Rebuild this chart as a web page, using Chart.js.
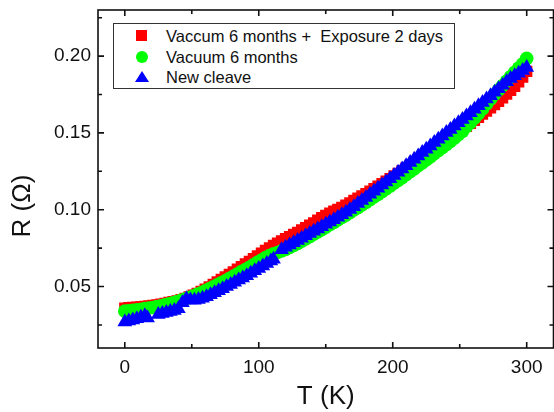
<!DOCTYPE html>
<html lang="en">
<head>
  <meta charset="UTF-8">
  <title>R vs T</title>
  <script src="https://cdn.jsdelivr.net/npm/chart.js"></script>
  <style>
    html, body { margin: 0; padding: 0; background: #fff; overflow: hidden; }
    #wrap { position: relative; width: 562px; height: 412px; }
    #legend {
      position: absolute; left: 113px; top: 23px; width: 340px; height: 64px;
      border: 1px solid #333; background: #fff;
      font: 16.5px "Liberation Sans", Arial, sans-serif; color: #111;
    }
    #legend .txt { position: absolute; left: 52px; height: 20px; line-height: 20px; white-space: pre; }
    #legend .mk { position: absolute; }
  </style>
</head>
<body>
  <div id="wrap">
    <canvas id="rtChart" width="562" height="412"></canvas>
    <!-- legend box inside the plot, like the original -->
    <div id="legend">
      <div class="mk" style="left:22px;top:6px;width:11px;height:11px;background:#ff0000"></div>
      <div class="txt" style="top:2px">Vaccum 6 months +  Exposure 2 days</div>
      <div class="mk" style="left:22px;top:27px;width:12px;height:12px;border-radius:50%;background:#00ff00"></div>
      <div class="txt" style="top:23px">Vacuum 6 months</div>
      <div class="mk" style="left:21px;top:47px;width:0;height:0;border-left:7px solid transparent;border-right:7px solid transparent;border-bottom:11px solid #0000ff"></div>
      <div class="txt" style="top:43px">New cleave</div>
    </div>
  </div>

  <script>
    // temperatures for the red and green runs (every 3 K)
    const sweepT = [0, 3, 6, 9, 12, 15, 18, 21, 24, 27, 30, 33, 36, 39, 42, 45, 48, 51, 54, 57,
      60, 63, 66, 69, 72, 75, 78, 81, 84, 87, 90, 93, 96, 99, 102, 105, 108, 111, 114, 117,
      120, 123, 126, 129, 132, 135, 138, 141, 144, 147, 150, 153, 156, 159, 162, 165, 168, 171, 174, 177,
      180, 183, 186, 189, 192, 195, 198, 201, 204, 207, 210, 213, 216, 219, 222, 225, 228, 231, 234, 237,
      240, 243, 246, 249, 252, 255, 258, 261, 264, 267, 270, 273, 276, 279, 282, 285, 288, 291, 294, 297, 300];

    // Vaccum 6 months + Exposure 2 days (red squares)
    const redR = [0.0360, 0.0362, 0.0364, 0.0366, 0.0368, 0.0371, 0.0374, 0.0377, 0.0381, 0.0386,
      0.0391, 0.0396, 0.0401, 0.0407, 0.0414, 0.0423, 0.0433, 0.0444, 0.0456, 0.0469,
      0.0483, 0.0498, 0.0514, 0.0530, 0.0546, 0.0562, 0.0579, 0.0596, 0.0613, 0.0630,
      0.0647, 0.0664, 0.0682, 0.0700, 0.0717, 0.0735, 0.0751, 0.0767, 0.0782, 0.0797,
      0.0811, 0.0825, 0.0839, 0.0853, 0.0868, 0.0883, 0.0899, 0.0915, 0.0932, 0.0948,
      0.0963, 0.0977, 0.0990, 0.1002, 0.1015, 0.1030, 0.1045, 0.1060, 0.1075, 0.1090,
      0.1105, 0.1121, 0.1137, 0.1153, 0.1169, 0.1186, 0.1203, 0.1220, 0.1237, 0.1255,
      0.1272, 0.1290, 0.1308, 0.1326, 0.1344, 0.1362, 0.1380, 0.1398, 0.1416, 0.1434,
      0.1452, 0.1470, 0.1488, 0.1506, 0.1524, 0.1543, 0.1562, 0.1582, 0.1602, 0.1622,
      0.1642, 0.1663, 0.1684, 0.1706, 0.1728, 0.1752, 0.1777, 0.1803, 0.1832, 0.1864, 0.1900];

    // Vacuum 6 months (green circles)
    const greenR = [0.0340, 0.0342, 0.0345, 0.0348, 0.0352, 0.0356, 0.0360, 0.0364, 0.0369, 0.0375,
      0.0381, 0.0388, 0.0395, 0.0402, 0.0410, 0.0419, 0.0428, 0.0438, 0.0449, 0.0460,
      0.0472, 0.0485, 0.0498, 0.0511, 0.0524, 0.0538, 0.0552, 0.0567, 0.0582, 0.0597,
      0.0611, 0.0626, 0.0641, 0.0657, 0.0672, 0.0688, 0.0702, 0.0713, 0.0722, 0.0732,
      0.0742, 0.0755, 0.0768, 0.0781, 0.0795, 0.0810, 0.0825, 0.0840, 0.0855, 0.0870,
      0.0886, 0.0902, 0.0917, 0.0933, 0.0949, 0.0965, 0.0981, 0.0998, 0.1014, 0.1031,
      0.1048, 0.1065, 0.1083, 0.1100, 0.1118, 0.1136, 0.1154, 0.1172, 0.1191, 0.1209,
      0.1228, 0.1247, 0.1266, 0.1286, 0.1305, 0.1324, 0.1344, 0.1364, 0.1384, 0.1404,
      0.1424, 0.1445, 0.1466, 0.1488, 0.1510, 0.1540, 0.1567, 0.1595, 0.1625, 0.1656,
      0.1688, 0.1719, 0.1750, 0.1780, 0.1809, 0.1838, 0.1866, 0.1894, 0.1922, 0.1950, 0.1985];

    // New cleave (blue triangles), with the two gaps seen in the plot
    const blueT = [0, 3, 6, 9, 12, 15, 17,
      25, 28, 31, 34, 37, 40, 43, 46, 49, 52, 55, 58, 61, 64, 67, 70, 73, 76, 79, 82, 85, 88,
      91, 94, 97, 100, 103, 106, 109, 111,
      117, 120, 123, 126, 129, 132, 135, 138, 141, 144, 147, 150, 153, 156, 159, 162, 165, 168, 171,
      174, 177, 180, 183, 186, 189, 192, 195, 198, 201, 204, 207, 210, 213, 216, 219, 222, 225, 228,
      231, 234, 237, 240, 243, 246, 249, 252, 255, 258, 261, 264, 267, 270, 273, 276, 279, 282, 285,
      288, 291, 294, 297, 300];
    const blueR = [0.0270, 0.0275, 0.0282, 0.0290, 0.0300, 0.0310, 0.0295,
      0.0318, 0.0325, 0.0331, 0.0337, 0.0344, 0.0355, 0.0395, 0.0420, 0.0412, 0.0410, 0.0415, 0.0424,
      0.0434, 0.0446, 0.0459, 0.0472, 0.0486, 0.0500, 0.0514, 0.0528, 0.0542, 0.0556,
      0.0571, 0.0587, 0.0602, 0.0618, 0.0634, 0.0650, 0.0667, 0.0678,
      0.0740, 0.0755, 0.0770, 0.0785, 0.0800, 0.0815, 0.0830, 0.0845, 0.0860, 0.0875, 0.0890, 0.0905,
      0.0920, 0.0935, 0.0951, 0.0967, 0.0983, 0.1001, 0.1020,
      0.1040, 0.1060, 0.1080, 0.1100, 0.1120, 0.1140, 0.1161, 0.1181, 0.1202, 0.1223, 0.1244, 0.1265,
      0.1286, 0.1307, 0.1329, 0.1350, 0.1372, 0.1393, 0.1415,
      0.1437, 0.1459, 0.1480, 0.1502, 0.1523, 0.1545, 0.1566, 0.1588, 0.1610, 0.1632, 0.1654, 0.1676,
      0.1698, 0.1720, 0.1742, 0.1764, 0.1787, 0.1810, 0.1833,
      0.1854, 0.1872, 0.1889, 0.1906, 0.1925];

    const xMajor = [0, 100, 200, 300];
    const xMinor = [50, 150, 250];
    const yMajor = [0.05, 0.10, 0.15, 0.20];
    const yMinor = [0.025, 0.075, 0.125, 0.175, 0.225];

    const FONT = '"Liberation Sans", Arial, sans-serif';

    function toPoints(xs, ys) {
      return xs.map((t, i) => ({ x: t, y: ys[i] }));
    }

    // frame, inward ticks on all four sides, and the y title
    const framePlugin = {
      id: 'frame',
      afterDraw(chart) {
        const { ctx, chartArea: a, scales: { x, y } } = chart;
        ctx.save();
        ctx.strokeStyle = '#111';
        ctx.lineWidth = 1.6;
        ctx.strokeRect(a.left, a.top, a.right - a.left, a.bottom - a.top);
        ctx.beginPath();
        const xt = (v, len) => {
          const p = x.getPixelForValue(v);
          ctx.moveTo(p, a.bottom); ctx.lineTo(p, a.bottom - len);
          ctx.moveTo(p, a.top); ctx.lineTo(p, a.top + len);
        };
        const yt = (v, len) => {
          const p = y.getPixelForValue(v);
          ctx.moveTo(a.left, p); ctx.lineTo(a.left + len, p);
          ctx.moveTo(a.right, p); ctx.lineTo(a.right - len, p);
        };
        xMajor.forEach(v => xt(v, 6));
        xMinor.forEach(v => xt(v, 4));
        yMajor.forEach(v => yt(v, 6));
        yMinor.forEach(v => yt(v, 4));
        ctx.stroke();

        ctx.translate(30, 206);
        ctx.rotate(-Math.PI / 2);
        ctx.font = '26px ' + FONT;
        ctx.fillStyle = '#111';
        ctx.textAlign = 'center';
        ctx.textBaseline = 'alphabetic';
        ctx.fillText('R (\u03A9)', 0, 0);
        ctx.restore();
      }
    };

    new Chart(document.getElementById('rtChart'), {
      type: 'scatter',
      data: {
        datasets: [
          {
            label: 'New cleave',
            data: toPoints(blueT, blueR),
            pointStyle: 'triangle',
            pointRadius: 8.5,
            pointBorderWidth: 0,
            backgroundColor: '#0000ff',
            order: 1
          },
          {
            label: 'Vacuum 6 months',
            data: toPoints(sweepT, greenR),
            pointStyle: 'circle',
            pointRadius: 6.8,
            pointBorderWidth: 0,
            backgroundColor: '#00ff00',
            order: 2
          },
          {
            label: 'Vaccum 6 months +  Exposure 2 days',
            data: toPoints(sweepT, redR),
            pointStyle: 'rect',
            pointRadius: 8,
            pointBorderWidth: 0,
            backgroundColor: '#ff0000',
            order: 3
          }
        ]
      },
      options: {
        responsive: false,
        animation: false,
        layout: { padding: { top: 10, right: 4, left: 0, bottom: 0 } },
        plugins: {
          legend: { display: false },
          tooltip: { enabled: false }
        },
        scales: {
          x: {
            type: 'linear',
            min: -20,
            max: 320,
            afterFit: s => { s.height = 64; s.paddingLeft = 0; s.paddingRight = 0; },
            afterBuildTicks: s => { s.ticks = xMajor.map(v => ({ value: v })); },
            grid: { display: false, drawTicks: false },
            border: { display: false },
            ticks: {
              padding: 8,
              color: '#111',
              font: { family: FONT, size: 19 },
              callback: v => String(v)
            },
            title: {
              display: true,
              text: 'T (K)',
              color: '#111',
              font: { family: FONT, size: 26 },
              padding: { top: 0, bottom: 0 }
            }
          },
          y: {
            type: 'linear',
            min: 0.01,
            max: 0.23,
            afterFit: s => { s.width = 98; s.paddingTop = 0; s.paddingBottom = 0; },
            afterBuildTicks: s => { s.ticks = yMajor.map(v => ({ value: v })); },
            grid: { display: false, drawTicks: false },
            border: { display: false },
            ticks: {
              padding: 7,
              color: '#111',
              font: { family: FONT, size: 19 },
              callback: v => v.toFixed(2)
            }
          }
        }
      },
      plugins: [framePlugin]
    });
  </script>
</body>
</html>
